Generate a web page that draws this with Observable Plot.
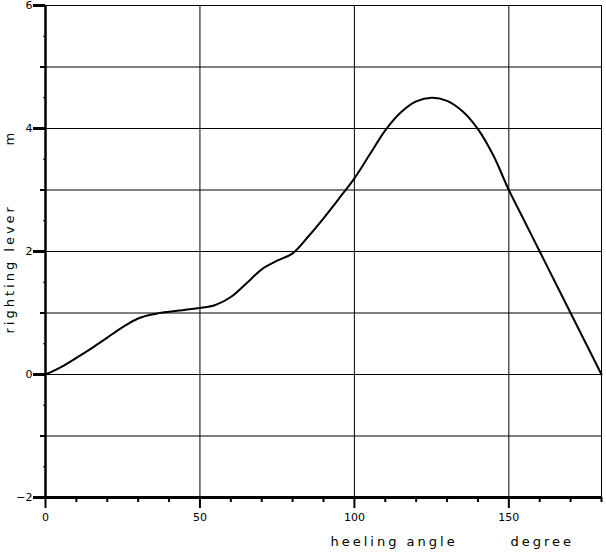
<!DOCTYPE html>
<html>
<head>
<meta charset="utf-8">
<script src="https://cdn.jsdelivr.net/npm/d3@7"></script>
<script src="https://cdn.jsdelivr.net/npm/@observablehq/plot@0.6"></script>
<style>
  html, body { margin: 0; padding: 0; background: white; }
</style>
</head>
<body>
<div id="chart"></div>
<script>
// heeling angle (degree)
const angles = [0, 5, 10, 15, 20, 25, 30, 35, 40, 45, 50, 55, 60, 65, 70, 75, 80, 85, 90, 95,
  100, 105, 110, 115, 120, 125, 130, 135, 140, 145, 150, 155, 160, 165, 170, 175, 180];
// righting lever (m)
const lever = [0, 0.12, 0.27, 0.43, 0.60, 0.77, 0.91, 0.98, 1.02, 1.05, 1.08, 1.13, 1.26, 1.48, 1.71, 1.85, 1.97, 2.24, 2.54, 2.86,
  3.19, 3.58, 3.97, 4.26, 4.44, 4.50, 4.45, 4.28, 3.99, 3.56, 3.00, 2.50, 2.00, 1.50, 1.00, 0.50, 0];

const xMajor = [0, 50, 100, 150];
const xMinor = [10, 20, 30, 40, 60, 70, 80, 90, 110, 120, 130, 140, 160, 170, 180];
const xGrid = [0, 50, 100, 150, 180];
const yLabeled = [-2, 0, 2, 4, 6];
const yOdd = [-1, 1, 3, 5];
const yHalf = [-1.5, -0.5, 0.5, 1.5, 2.5, 3.5, 4.5, 5.5];
const yGrid = [-2, -1, 0, 1, 2, 3, 4, 5, 6];

const data = angles.map((a, i) => ({angle: a, lever: lever[i]}));
const blank = () => "";

const chart = Plot.plot({
  width: 606,
  height: 553,
  marginLeft: 45,
  marginRight: 5,
  marginTop: 5,
  marginBottom: 56,
  x: {domain: [0, 180]},
  y: {domain: [-2, 6]},
  style: {fontFamily: "DejaVu Sans", fontSize: "11px", color: "black", background: "white"},
  marks: [
    Plot.gridY(yGrid, {stroke: "black", strokeOpacity: 1, strokeWidth: 1}),
    Plot.gridX(xGrid, {stroke: "black", strokeOpacity: 1, strokeWidth: 1}),
    Plot.axisY(yHalf, {tickSize: 2, tickFormat: blank, label: null, strokeWidth: 1}),
    Plot.axisY(yOdd, {tickSize: 5, tickFormat: blank, label: null, strokeWidth: 2}),
    Plot.axisY(yLabeled, {tickSize: 12, tickPadding: 1, label: null, tickFormat: d3.format("d"), strokeWidth: 3}),
    Plot.axisX(xMinor, {tickSize: 5, tickFormat: blank, label: null, strokeWidth: 2}),
    Plot.axisX(xMajor, {tickSize: 11, tickPadding: 5, label: null, tickFormat: d3.format("d"), strokeWidth: 2}),
    Plot.ruleX([0], {strokeWidth: 2.5}),
    Plot.ruleY([-2], {strokeWidth: 3}),
    Plot.line(data, {x: "angle", y: "lever", curve: "catmull-rom", stroke: "black", strokeWidth: 2}),
    Plot.text(["heeling angle"], {text: d => d, frameAnchor: "bottom-left", dx: 285, dy: 44, textAnchor: "start", lineAnchor: "middle", fontSize: 13}),
    Plot.text(["degree"], {text: d => d, frameAnchor: "bottom-left", dx: 465, dy: 44, textAnchor: "start", lineAnchor: "middle", fontSize: 13}),
    Plot.text(["righting lever"], {text: d => d, frameAnchor: "top-left", dx: -36, dy: 328, rotate: -90, textAnchor: "start", lineAnchor: "middle", fontSize: 13}),
    Plot.text(["m"], {text: d => d, frameAnchor: "top-left", dx: -36, dy: 140, rotate: -90, textAnchor: "start", lineAnchor: "middle", fontSize: 13})
  ]
});

chart.querySelectorAll('g[aria-label="text"] text').forEach(t => t.setAttribute("letter-spacing", "3"));
document.getElementById("chart").appendChild(chart);
</script>
</body>
</html>
